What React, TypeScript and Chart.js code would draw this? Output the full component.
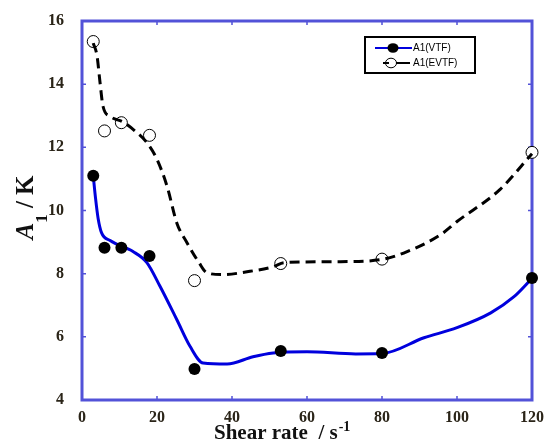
import React, { useEffect, useRef } from "react";
import { Chart, registerables } from "chart.js";

Chart.register(...registerables);

// Measured points
const vtfX = [3, 6, 10.5, 18, 30, 53, 80, 120];
const vtfY = [11.1, 8.82, 8.82, 8.56, 4.98, 5.55, 5.49, 7.86];
const evtfX = [3, 6, 10.5, 18, 30, 53, 80, 120];
const evtfY = [15.35, 12.52, 12.78, 12.38, 7.78, 8.32, 8.46, 11.84];

// Fitted curves
const vtfFitX = [3, 3.6, 4.3, 5.2, 7.5, 13.6, 17.3, 20.8, 25.3, 28.8, 32.3, 38.7, 45.6, 51, 60, 73, 80, 91.2, 100, 109, 115.2, 120];
const vtfFitY = [11.1, 10.4, 9.75, 9.3, 9.05, 8.7, 8.35, 7.6, 6.54, 5.7, 5.17, 5.14, 5.37, 5.49, 5.53, 5.46, 5.47, 5.97, 6.29, 6.76, 7.27, 7.85];
const evtfFitX = [3, 4, 4.8, 5.6, 7.5, 11, 14.6, 17.3, 20, 22.7, 25.3, 28, 31.2, 33.3, 37.6, 44, 51, 53.9, 69, 80, 86.7, 95.7, 100, 111.5, 120];
const evtfFitY = [15.3, 14.9, 14.06, 13.3, 12.98, 12.8, 12.47, 12.15, 11.62, 10.76, 9.6, 8.98, 8.35, 8.03, 7.97, 8.06, 8.22, 8.35, 8.38, 8.45, 8.7, 9.24, 9.65, 10.67, 11.8];

const xTicks = [0, 20, 40, 60, 80, 100, 120];
const yTicks = [4, 6, 8, 10, 12, 14, 16];
const legendLabels = ["A1(VTF)", "A1(EVTF)"];

const FRAME = "#5252d8";
const BLUE = "#0000dd";
const SERIF = '"Liberation Serif", "Times New Roman", serif';
const LABEL_COLOR = "#2a2418";

const toPts = (xs: number[], ys: number[]) => xs.map((x, i) => ({ x, y: ys[i] }));

const framePlugin = {
  id: "frameDeco",
  beforeDatasetsDraw(chart: any) {
    const { ctx, chartArea, scales } = chart;
    const { left, right, top, bottom } = chartArea;
    ctx.save();
    ctx.strokeStyle = FRAME;
    ctx.lineWidth = 1.5;
    const tl = 4;
    xTicks.slice(1, -1).forEach((v) => {
      const px = scales.x.getPixelForValue(v);
      ctx.beginPath();
      ctx.moveTo(px, bottom);
      ctx.lineTo(px, bottom - tl);
      ctx.moveTo(px, top);
      ctx.lineTo(px, top + tl);
      ctx.stroke();
    });
    yTicks.slice(1, -1).forEach((v) => {
      const py = scales.y.getPixelForValue(v);
      ctx.beginPath();
      ctx.moveTo(left, py);
      ctx.lineTo(left + tl, py);
      ctx.moveTo(right, py);
      ctx.lineTo(right - tl, py);
      ctx.stroke();
    });
    ctx.lineWidth = 3;
    ctx.strokeRect(left, top, right - left, bottom - top);
    ctx.restore();
  },
  afterDraw(chart: any) {
    const { ctx, chartArea } = chart;
    const { top, bottom } = chartArea;
    ctx.save();
    ctx.fillStyle = "#111";
    // Y title: A1 / K
    const cy = (top + bottom) / 2 - 3;
    ctx.translate(33, cy);
    ctx.rotate(-Math.PI / 2);
    const fA = `italic bold 25px ${SERIF}`;
    const fSub = `bold 17px ${SERIF}`;
    const fK = `bold 25px ${SERIF}`;
    ctx.font = fA;
    const wA = ctx.measureText("A").width;
    ctx.font = fSub;
    const wS = ctx.measureText("1").width;
    ctx.font = fK;
    const wK = ctx.measureText(" / K").width;
    let x0 = -(wA + wS + wK) / 2;
    ctx.textBaseline = "alphabetic";
    ctx.textAlign = "left";
    ctx.font = fA;
    ctx.fillText("A", x0, 0);
    x0 += wA;
    ctx.font = fSub;
    ctx.fillText("1", x0, 14);
    x0 += wS;
    ctx.font = fK;
    ctx.fillText(" / K", x0, 0);
    ctx.restore();

    // X title
    ctx.save();
    ctx.fillStyle = "#111";
    ctx.textAlign = "left";
    ctx.textBaseline = "alphabetic";
    ctx.font = `bold 21px ${SERIF}`;
    const main = "Shear rate  / s";
    const wm = ctx.measureText(main).width;
    const sx = 214;
    ctx.fillText(main, sx, 439);
    ctx.font = `bold 14px ${SERIF}`;
    ctx.fillText("-1", sx + wm + 1, 431);
    ctx.restore();

    // Legend
    ctx.save();
    ctx.strokeStyle = "#000";
    ctx.lineWidth = 2;
    ctx.strokeRect(365, 37, 110, 36);
    ctx.strokeStyle = BLUE;
    ctx.lineWidth = 2;
    ctx.beginPath();
    ctx.moveTo(375, 48);
    ctx.lineTo(412, 48);
    ctx.stroke();
    ctx.fillStyle = "#000";
    ctx.beginPath();
    ctx.ellipse(393, 48, 5.5, 4.8, 0, 0, Math.PI * 2);
    ctx.fill();
    ctx.fillStyle = "#fff";
    ctx.strokeStyle = "#000";
    ctx.lineWidth = 1;
    ctx.beginPath();
    ctx.ellipse(391, 63, 5.5, 4.8, 0, 0, Math.PI * 2);
    ctx.fill();
    ctx.stroke();
    ctx.lineWidth = 2;
    ctx.beginPath();
    ctx.moveTo(383, 63);
    ctx.lineTo(389, 63);
    ctx.moveTo(396, 63);
    ctx.lineTo(410, 63);
    ctx.stroke();
    ctx.fillStyle = "#000";
    ctx.font = '10px "Liberation Sans", Arial, sans-serif';
    ctx.textBaseline = "middle";
    ctx.textAlign = "left";
    ctx.fillText(legendLabels[0], 413, 48.5);
    ctx.fillText(legendLabels[1], 413, 63.5);
    ctx.restore();
  },
};

export default function App() {
  const ref = useRef<HTMLCanvasElement | null>(null);
  useEffect(() => {
    if (!ref.current) return;
    const chart = new Chart(ref.current, {
      type: "scatter",
      data: {
        datasets: [
          {
            label: legendLabels[0],
            data: toPts(vtfX, vtfY),
            showLine: false,
            pointRadius: 6,
            pointBackgroundColor: "#000",
            pointBorderColor: "#000",
            pointBorderWidth: 0,
            clip: false,
          } as any,
          {
            label: "EVTF fit",
            data: toPts(evtfFitX, evtfFitY),
            showLine: true,
            borderColor: "#000",
            borderWidth: 3,
            borderDash: [10, 6],
            pointRadius: 0,
            cubicInterpolationMode: "monotone",
            clip: false,
          } as any,
          {
            label: legendLabels[1],
            data: toPts(evtfX, evtfY),
            showLine: false,
            pointRadius: 6,
            pointBackgroundColor: "#fff",
            pointBorderColor: "#000",
            pointBorderWidth: 1,
            clip: false,
          } as any,
          {
            label: "VTF fit",
            data: toPts(vtfFitX, vtfFitY),
            showLine: true,
            borderColor: BLUE,
            borderWidth: 3,
            pointRadius: 0,
            cubicInterpolationMode: "monotone",
            clip: false,
          } as any,
        ],
      },
      options: {
        animation: false,
        responsive: false,
        layout: { padding: { left: 0, right: 16, top: 21, bottom: 0 } },
        plugins: { legend: { display: false }, tooltip: { enabled: false } },
        scales: {
          x: {
            type: "linear",
            min: 0,
            max: 120,
            grid: { display: false },
            border: { display: false },
            afterFit: (s: any) => {
              s.height = 41;
              s.paddingRight = 0;
              s.paddingLeft = 0;
            },
            ticks: {
              stepSize: 20,
              padding: 0,
              color: LABEL_COLOR,
              font: { family: SERIF, size: 16, weight: "bold" },
              maxRotation: 0,
            },
          },
          y: {
            type: "linear",
            min: 4,
            max: 16,
            grid: { display: false },
            border: { display: false },
            afterFit: (s: any) => {
              s.width = 82;
              s.paddingTop = 0;
              s.paddingBottom = 0;
            },
            ticks: {
              stepSize: 2,
              padding: 10,
              color: LABEL_COLOR,
              font: { family: SERIF, size: 16, weight: "bold" },
            },
          },
        },
      },
      plugins: [framePlugin],
    });
    return () => chart.destroy();
  }, []);
  return (
    <div style={{ position: "absolute", left: 0, top: 0, width: 548, height: 441, background: "#fff" }}>
      <canvas ref={ref} width={548} height={441} style={{ display: "block" }} />
    </div>
  );
}
